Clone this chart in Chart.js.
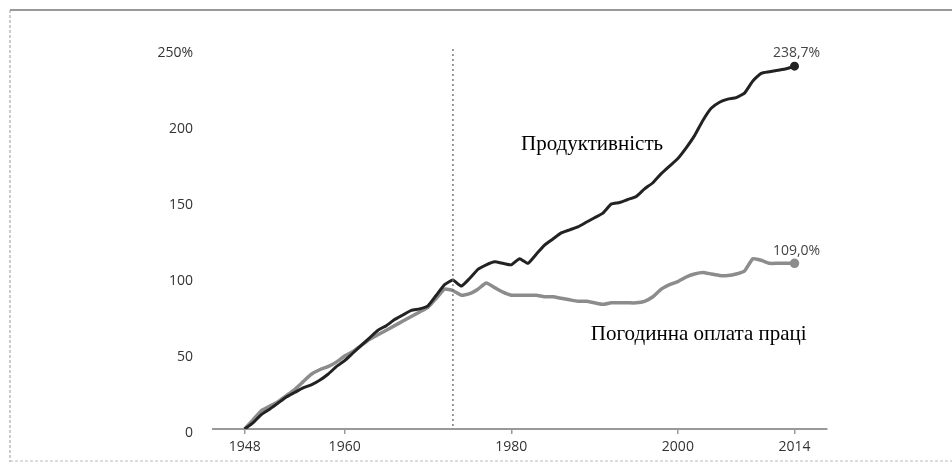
<!DOCTYPE html>
<html>
<head>
<meta charset="utf-8">
<script src="https://cdn.jsdelivr.net/npm/chart.js@4/dist/chart.umd.min.js"></script>
<style>
  html, body { margin: 0; padding: 0; background: #fff; }
  #wrap { width: 952px; height: 467px; position: relative; }
</style>
</head>
<body>
<div id="wrap"><canvas id="prodChart"></canvas></div>
<script>
// years 1948..2014, cumulative % change since 1948
const years = [];
for (let y = 1948; y <= 2014; y++) years.push(y);

const productivity = [0, 4, 9.5, 13, 17, 21, 24, 27, 29, 32,
  36, 41, 45, 50, 55, 60, 65, 68, 72, 75,
  78, 79, 81, 88, 95, 98, 94, 99, 105, 108,
  110, 109, 108, 112, 109, 115, 121, 125, 129, 131,
  133, 136, 139, 142, 148, 149, 151, 153, 158, 162,
  168, 173, 178, 185, 193, 203, 211, 215, 217, 218,
  221, 229, 234, 235, 236, 237, 238.7];

const compensation = [0, 6, 12, 15, 18, 22, 26, 31, 36, 39,
  41, 44, 48, 51, 55, 59, 62, 65, 68, 71,
  74, 77, 80, 86, 92, 91, 88, 89, 92, 96,
  93, 90, 88, 88, 88, 88, 87, 87, 86, 85,
  84, 84, 83, 82, 83, 83, 83, 83, 84, 87,
  92, 95, 97, 100, 102, 103, 102, 101, 101, 102,
  104, 112, 111, 109, 109, 109, 109.0];

const xTicks = [1948, 1960, 1980, 2000, 2014];
const yTicks = [0, 50, 100, 150, 200, 250];
const breakYear = 1973;

const seriesNames = ["Продуктивність", "Погодинна оплата праці"];
const endLabels = ["238,7%", "109,0%"];

const toPts = arr => arr.map((v, i) => ({ x: years[i], y: v }));
const lastRadius = arr => arr.map((v, i) => i === arr.length - 1 ? 3 : 0);

const decor = {
  id: "decor",
  beforeDraw(chart) {
    const c = chart.ctx;
    c.save();
    // scanned frame
    c.strokeStyle = "#777";
    c.lineWidth = 1.5;
    c.beginPath(); c.moveTo(10, 10); c.lineTo(952, 10); c.stroke();
    c.strokeStyle = "#999";
    c.lineWidth = 1;
    c.setLineDash([3, 2]);
    c.beginPath(); c.moveTo(10, 10); c.lineTo(10, 462); c.stroke();
    c.strokeStyle = "#bbb";
    c.beginPath(); c.moveTo(10, 461); c.lineTo(952, 461); c.stroke();
    c.restore();
  },
  afterDatasetsDraw(chart) {
    const c = chart.ctx;
    const xs = chart.scales.x, ys = chart.scales.y;
    c.save();
    // dotted line at 1973
    const bx = xs.getPixelForValue(breakYear);
    c.strokeStyle = "#666";
    c.lineWidth = 1.3;
    c.setLineDash([2, 3]);
    c.beginPath(); c.moveTo(bx, chart.chartArea.top); c.lineTo(bx, chart.chartArea.bottom); c.stroke();
    c.setLineDash([]);

    // series captions
    c.fillStyle = "#000";
    c.font = "21px 'Liberation Serif', serif";
    c.textAlign = "center";
    c.textBaseline = "middle";
    c.fillText(seriesNames[0], xs.getPixelForValue(1989.7), ys.getPixelForValue(187));
    c.fillText(seriesNames[1], xs.getPixelForValue(2002.5), ys.getPixelForValue(62));

    // end values
    c.font = "14px 'Open Sans', sans-serif";
    c.fillStyle = "#444";
    const last = years.length - 1;
    const ex = xs.getPixelForValue(years[last]);
    c.fillText(endLabels[0], ex + 2, ys.getPixelForValue(productivity[last]) - 13);
    c.fillText(endLabels[1], ex + 2, ys.getPixelForValue(compensation[last]) - 12);
    c.restore();
  }
};

new Chart("prodChart", {
  type: "line",
  data: {
    datasets: [{
      label: seriesNames[0],
      data: toPts(productivity),
      borderColor: "#222",
      backgroundColor: "#222",
      borderWidth: 3,
      pointRadius: lastRadius(productivity),
      tension: 0.15,
      fill: false
    }, {
      label: seriesNames[1],
      data: toPts(compensation),
      borderColor: "#8c8c8c",
      backgroundColor: "#8c8c8c",
      borderWidth: 3.5,
      pointRadius: lastRadius(compensation),
      tension: 0.15,
      fill: false
    }]
  },
  options: {
    responsive: true,
    maintainAspectRatio: false,
    animation: false,
    layout: { padding: { left: 0, right: 125, top: 49, bottom: 0 } },
    plugins: { legend: { display: false }, tooltip: { enabled: false } },
    scales: {
      x: {
        type: "linear",
        min: 1944.2,
        max: 2017.9,
        afterBuildTicks: s => { s.ticks = xTicks.map(v => ({ value: v })); },
        afterFit: s => { s.height = 38; },
        grid: { display: true, drawOnChartArea: false, drawTicks: true, tickLength: 5, color: "#999", lineWidth: 1.5 },
        border: { display: true, color: "#999", width: 2 },
        ticks: {
          padding: 5,
          color: "#333",
          font: { family: "'Open Sans', sans-serif", size: 14 },
          callback: v => String(v),
          maxRotation: 0,
          autoSkip: false
        }
      },
      y: {
        min: 0,
        max: 250,
        afterBuildTicks: s => { s.ticks = yTicks.map(v => ({ value: v })); },
        afterFit: s => { s.width = 213; },
        grid: { display: false, drawTicks: false },
        border: { display: false },
        ticks: {
          padding: 20,
          labelOffset: 4,
          color: "#333",
          font: { family: "'Open Sans', sans-serif", size: 14 },
          callback: v => v === 250 ? v + "%" : String(v)
        }
      }
    }
  },
  plugins: [decor]
});
</script>
</body>
</html>
